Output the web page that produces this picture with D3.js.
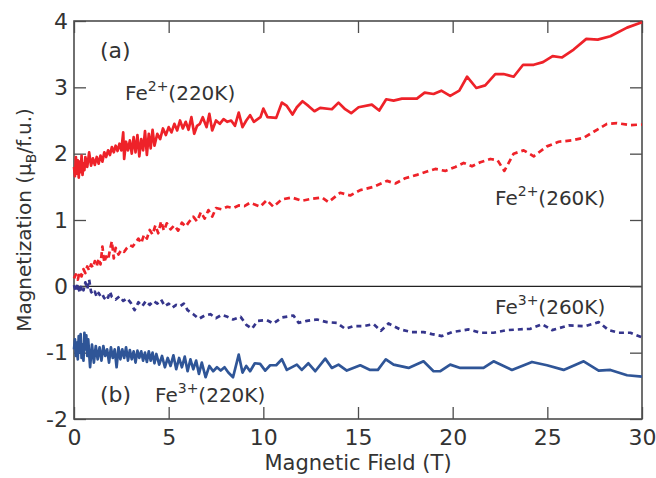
<!DOCTYPE html>
<html><head><meta charset="utf-8">
<script src="https://cdn.jsdelivr.net/npm/d3@7"></script>
<style>
html,body{margin:0;padding:0;background:#fff;}
text{font-family:"DejaVu Sans",sans-serif;fill:#333;}
</style></head>
<body><svg id="c" width="656" height="478"></svg>
<script>
// ---- data ----
const xTicks = [0,5,10,15,20,25,30];
const yTicks = [-2,-1,0,1,2,3,4];

const fe2_220K = [
[0.00,1.80],[0.05,1.66],[0.10,1.95],[0.15,1.70],[0.20,1.90],[0.25,1.64],[0.30,1.88],[0.35,1.72],[0.40,1.97],[0.45,1.68],
[0.50,1.85],[0.55,1.75],[0.60,1.95],[0.70,1.80],[0.80,2.02],[0.90,1.82],[1.00,1.93],[1.10,1.83],[1.20,1.95],[1.30,1.85],
[1.40,1.97],[1.50,1.88],[1.60,2.02],[1.70,1.95],[1.80,2.05],[1.90,1.98],[2.00,2.10],[2.10,2.02],[2.20,2.12],[2.30,2.04],
[2.40,2.15],[2.50,2.05],[2.60,2.32],[2.65,1.92],[2.75,2.18],[2.85,2.05],[2.95,2.20],[3.05,2.00],[3.15,2.25],[3.25,2.02],
[3.35,2.28],[3.45,1.96],[3.55,2.22],[3.65,2.05],[3.75,2.34],[3.85,1.98],[3.95,2.30],[4.05,2.08],[4.15,2.36],[4.25,2.12],
[4.40,2.30],[4.55,2.22],[4.70,2.38],[4.85,2.28],[5.00,2.40],[5.15,2.32],[5.30,2.45],[5.45,2.35],[5.60,2.50],[5.75,2.38],
[5.90,2.48],[6.05,2.36],[6.20,2.55],[6.35,2.30],[6.50,2.42],[6.65,2.45],[6.80,2.55],[7.00,2.40],[7.15,2.60],[7.30,2.35],
[7.50,2.50],[7.70,2.45],[7.90,2.52],[8.10,2.48],[8.30,2.50],[8.50,2.42],[8.70,2.62],[8.90,2.40],[9.10,2.50],[9.30,2.58],
[9.50,2.48],[9.70,2.52],[9.85,2.55],[10.00,2.68],[10.22,2.55],[10.68,2.54],[10.98,2.77],[11.24,2.72],[11.54,2.59],[11.77,2.70],
[12.07,2.79],[12.38,2.72],[12.70,2.64],[13.00,2.69],[13.62,2.67],[13.97,2.77],[14.32,2.67],[14.64,2.61],[15.03,2.70],[15.73,2.74],
[16.12,2.65],[16.49,2.82],[16.88,2.80],[17.32,2.83],[18.11,2.83],[18.52,2.92],[18.99,2.90],[19.40,2.95],[19.87,2.87],[20.35,2.95],
[20.76,3.16],[21.25,2.99],[21.72,3.03],[22.25,3.20],[22.69,3.20],[23.22,3.16],[23.72,3.34],[24.28,3.34],[24.77,3.38],[25.28,3.47],
[25.78,3.45],[26.39,3.57],[27.06,3.73],[27.66,3.72],[28.33,3.77],[29.21,3.90],[30.00,3.98]
];

const fe2_260K = [
[0.00,0.12],[0.10,0.18],[0.20,0.10],[0.30,0.22],[0.40,0.15],[0.50,0.26],[0.60,0.20],[0.70,0.30],[0.80,0.24],[0.90,0.33],
[1.00,0.28],[1.10,0.38],[1.20,0.30],[1.30,0.42],[1.40,0.33],[1.50,0.60],[1.60,0.36],[1.70,0.45],[1.80,0.40],[1.90,0.55],
[2.00,0.68],[2.10,0.42],[2.20,0.58],[2.35,0.48],[2.50,0.55],[2.65,0.52],[2.80,0.58],[2.95,0.62],[3.10,0.60],[3.25,0.66],
[3.40,0.72],[3.55,0.65],[3.70,0.78],[3.85,0.72],[4.00,0.85],[4.15,0.78],[4.30,0.92],[4.45,0.80],[4.60,0.98],[4.75,0.84],
[4.90,0.95],[5.10,0.86],[5.30,0.92],[5.50,0.84],[5.70,0.96],[5.90,0.90],[6.10,0.98],[6.30,1.05],[6.50,0.98],[6.70,1.12],
[6.90,1.02],[7.10,1.15],[7.30,1.05],[7.50,1.18],[7.80,1.16],[8.10,1.20],[8.40,1.18],[8.70,1.22],[9.00,1.21],[9.30,1.26],
[9.83,1.20],[10.18,1.30],[10.53,1.20],[10.98,1.31],[11.50,1.34],[12.03,1.29],[12.56,1.32],[13.09,1.34],[13.44,1.27],[14.06,1.41],
[14.59,1.37],[15.12,1.45],[15.82,1.50],[16.53,1.59],[16.97,1.55],[17.49,1.63],[18.11,1.68],[18.64,1.73],[19.08,1.77],[19.61,1.74],
[20.14,1.80],[20.58,1.86],[21.02,1.81],[21.46,1.87],[21.99,1.92],[22.37,1.90],[22.73,1.74],[23.22,2.00],[23.75,2.05],[24.28,1.96],
[24.98,2.11],[25.60,2.18],[26.30,2.20],[26.92,2.24],[27.45,2.33],[28.15,2.45],[28.68,2.46],[29.39,2.43],[30.00,2.44]
];

const fe3_260K = [
[0.00,0.02],[0.10,-0.08],[0.20,0.04],[0.30,-0.10],[0.40,0.02],[0.50,-0.06],[0.60,0.06],[0.70,-0.04],[0.80,0.10],[0.90,-0.08],
[1.00,-0.12],[1.10,-0.08],[1.20,-0.16],[1.30,-0.10],[1.40,-0.15],[1.50,-0.12],[1.60,-0.18],[1.70,-0.13],[1.80,-0.17],[1.90,-0.08],
[2.00,-0.16],[2.20,-0.20],[2.40,-0.15],[2.60,-0.22],[2.80,-0.18],[3.00,-0.25],[3.20,-0.36],[3.40,-0.24],[3.60,-0.30],[3.80,-0.22],
[4.00,-0.28],[4.20,-0.22],[4.40,-0.26],[4.60,-0.20],[4.80,-0.30],[5.00,-0.26],[5.20,-0.32],[5.40,-0.28],[5.60,-0.30],[5.80,-0.26],
[6.00,-0.36],[6.30,-0.42],[6.60,-0.49],[6.90,-0.44],[7.20,-0.42],[7.50,-0.48],[7.80,-0.43],[8.10,-0.46],[8.40,-0.50],[8.80,-0.46],
[9.10,-0.58],[9.40,-0.64],[9.70,-0.52],[10.18,-0.51],[10.53,-0.56],[10.98,-0.47],[11.59,-0.44],[11.86,-0.55],[12.30,-0.52],[12.83,-0.50],
[13.36,-0.54],[13.88,-0.55],[14.32,-0.64],[14.76,-0.60],[15.29,-0.60],[15.82,-0.57],[16.21,-0.67],[16.61,-0.56],[17.23,-0.65],[17.85,-0.69],
[18.46,-0.69],[18.91,-0.72],[19.43,-0.75],[19.96,-0.69],[20.84,-0.65],[21.46,-0.70],[22.16,-0.70],[22.87,-0.66],[24.10,-0.64],[24.72,-0.57],
[25.25,-0.66],[26.13,-0.59],[27.00,-0.60],[27.71,-0.54],[28.24,-0.66],[28.77,-0.70],[29.39,-0.70],[30.00,-0.77]
];

const fe3_220K = [
[0.00,-0.95],[0.05,-0.80],[0.10,-1.05],[0.15,-0.85],[0.20,-1.10],[0.25,-0.75],[0.30,-1.00],[0.35,-0.72],[0.40,-1.08],[0.45,-0.88],
[0.50,-1.12],[0.55,-0.70],[0.60,-0.95],[0.65,-0.74],[0.70,-1.05],[0.75,-0.80],[0.85,-1.22],[0.95,-0.88],[1.05,-1.15],[1.15,-0.90],
[1.25,-1.10],[1.35,-0.92],[1.45,-1.12],[1.55,-0.90],[1.65,-1.05],[1.75,-0.95],[1.85,-1.15],[1.95,-0.92],[2.05,-1.08],[2.15,-0.95],
[2.25,-1.22],[2.35,-0.92],[2.45,-1.10],[2.55,-0.95],[2.65,-1.08],[2.75,-0.92],[2.85,-1.12],[2.95,-0.96],[3.05,-1.10],[3.15,-0.98],
[3.25,-1.15],[3.35,-0.97],[3.45,-1.08],[3.55,-0.98],[3.65,-1.12],[3.75,-1.00],[3.85,-1.14],[3.95,-0.98],[4.05,-1.12],[4.15,-1.00],
[4.25,-1.16],[4.35,-1.02],[4.50,-1.18],[4.65,-1.05],[4.80,-1.22],[4.95,-1.08],[5.10,-1.20],[5.25,-1.04],[5.40,-1.25],[5.55,-1.08],
[5.70,-1.22],[5.85,-1.06],[6.00,-1.28],[6.15,-1.10],[6.30,-1.25],[6.45,-1.12],[6.60,-1.32],[6.75,-1.15],[6.95,-1.37],[7.15,-1.20],
[7.35,-1.28],[7.55,-1.22],[7.75,-1.27],[7.95,-1.22],[8.15,-1.30],[8.40,-1.37],[8.70,-1.03],[8.90,-1.30],[9.10,-1.20],[9.30,-1.28],
[9.55,-1.16],[9.83,-1.17],[10.10,-1.27],[10.36,-1.19],[10.68,-1.19],[10.98,-1.10],[11.24,-1.26],[11.77,-1.18],[12.03,-1.26],[12.38,-1.16],
[12.74,-1.28],[13.27,-1.09],[13.62,-1.23],[13.97,-1.18],[14.41,-1.27],[15.12,-1.19],[15.64,-1.26],[16.05,-1.26],[16.47,-1.10],[16.88,-1.18],
[17.67,-1.23],[18.46,-1.13],[18.99,-1.28],[19.35,-1.28],[19.87,-1.18],[20.40,-1.23],[21.63,-1.23],[22.16,-1.13],[23.13,-1.26],[24.19,-1.14],
[24.98,-1.19],[25.86,-1.26],[26.92,-1.13],[27.71,-1.27],[28.33,-1.26],[29.21,-1.34],[30.00,-1.36]
];

// ---- layout ----
const svg = d3.select("#c");
const L = 74, R = 642, T = 21, B = 419;
const x = d3.scaleLinear().domain([0,30]).range([L,R]);
const y = d3.scaleLinear().domain([-2,4]).range([B,T]);
const axisCol = "#4d4d4d";
const fmt = d => String(d);

// zero line
svg.append("line").attr("x1",L).attr("x2",R).attr("y1",y(0)).attr("y2",y(0))
  .attr("stroke","#222").attr("stroke-width",1.2);

// axes with inward ticks
const tk = 12;
function styleAxis(g){
  g.select(".domain").remove();
  g.selectAll("line").attr("stroke",axisCol).attr("stroke-width",1.3);
  g.selectAll("text").attr("font-size",22).attr("font-family","DejaVu Sans").attr("fill","#333");
}
svg.append("g").attr("transform",`translate(0,${B})`)
  .call(d3.axisBottom(x).tickValues(xTicks).tickFormat(fmt).tickSizeInner(-tk).tickSizeOuter(0).tickPadding(10))
  .call(styleAxis);
svg.append("g").attr("transform",`translate(0,${T})`)
  .call(d3.axisTop(x).tickValues(xTicks).tickSizeInner(-tk).tickSizeOuter(0).tickFormat(""))
  .call(styleAxis);
svg.append("g").attr("transform",`translate(${L},0)`)
  .call(d3.axisLeft(y).tickValues(yTicks).tickFormat(fmt).tickSizeInner(-tk).tickSizeOuter(0).tickPadding(6))
  .call(styleAxis);
svg.append("g").attr("transform",`translate(${R},0)`)
  .call(d3.axisRight(y).tickValues(yTicks).tickSizeInner(-tk).tickSizeOuter(0).tickFormat(""))
  .call(styleAxis);

// frame
svg.append("rect").attr("x",L).attr("y",T).attr("width",R-L).attr("height",B-T)
  .attr("fill","none").attr("stroke",axisCol).attr("stroke-width",1.6);

// series
const line = d3.line().x(d=>x(d[0])).y(d=>y(d[1]));
const series = [
  {d:fe2_260K, c:"#ee2229", dash:"6,4", w:2.7},
  {d:fe2_220K, c:"#ee2229", dash:null, w:2.7},
  {d:fe3_260K, c:"#35358c", dash:"5,4", w:2.7},
  {d:fe3_220K, c:"#2f5597", dash:null, w:2.7}
];
series.forEach(s=>{
  svg.append("path").datum(s.d).attr("d",line).attr("fill","none")
    .attr("stroke",s.c).attr("stroke-width",s.w).attr("stroke-linejoin","round")
    .attr("stroke-dasharray",s.dash);
});

// labels
function feLabel(px,py,ion,temp){
  const t = svg.append("text").attr("x",px).attr("y",py).attr("font-size",20);
  t.append("tspan").text("Fe");
  t.append("tspan").attr("dy",-9).attr("font-size",14).text(ion);
  t.append("tspan").attr("dy",9).text("("+temp+")");
}
feLabel(125,100,"2+","220K");
feLabel(495,205,"2+","260K");
feLabel(495,314,"3+","260K");
feLabel(155,402,"3+","220K");
svg.append("text").attr("x",100).attr("y",58).attr("font-size",22).text("(a)");
svg.append("text").attr("x",100).attr("y",402).attr("font-size",22).text("(b)");

// axis titles
svg.append("text").attr("x",(L+R)/2).attr("y",470).attr("text-anchor","middle").attr("font-size",21)
  .text("Magnetic Field (T)");
const yt = svg.append("text").attr("transform",`translate(31,${(T+B)/2}) rotate(-90)`)
  .attr("text-anchor","middle").attr("font-size",20);
yt.append("tspan").text("Magnetization (μ");
yt.append("tspan").attr("dy",5).attr("font-size",14).text("B");
yt.append("tspan").attr("dy",-5).text("/f.u.)");
</script></body></html>
